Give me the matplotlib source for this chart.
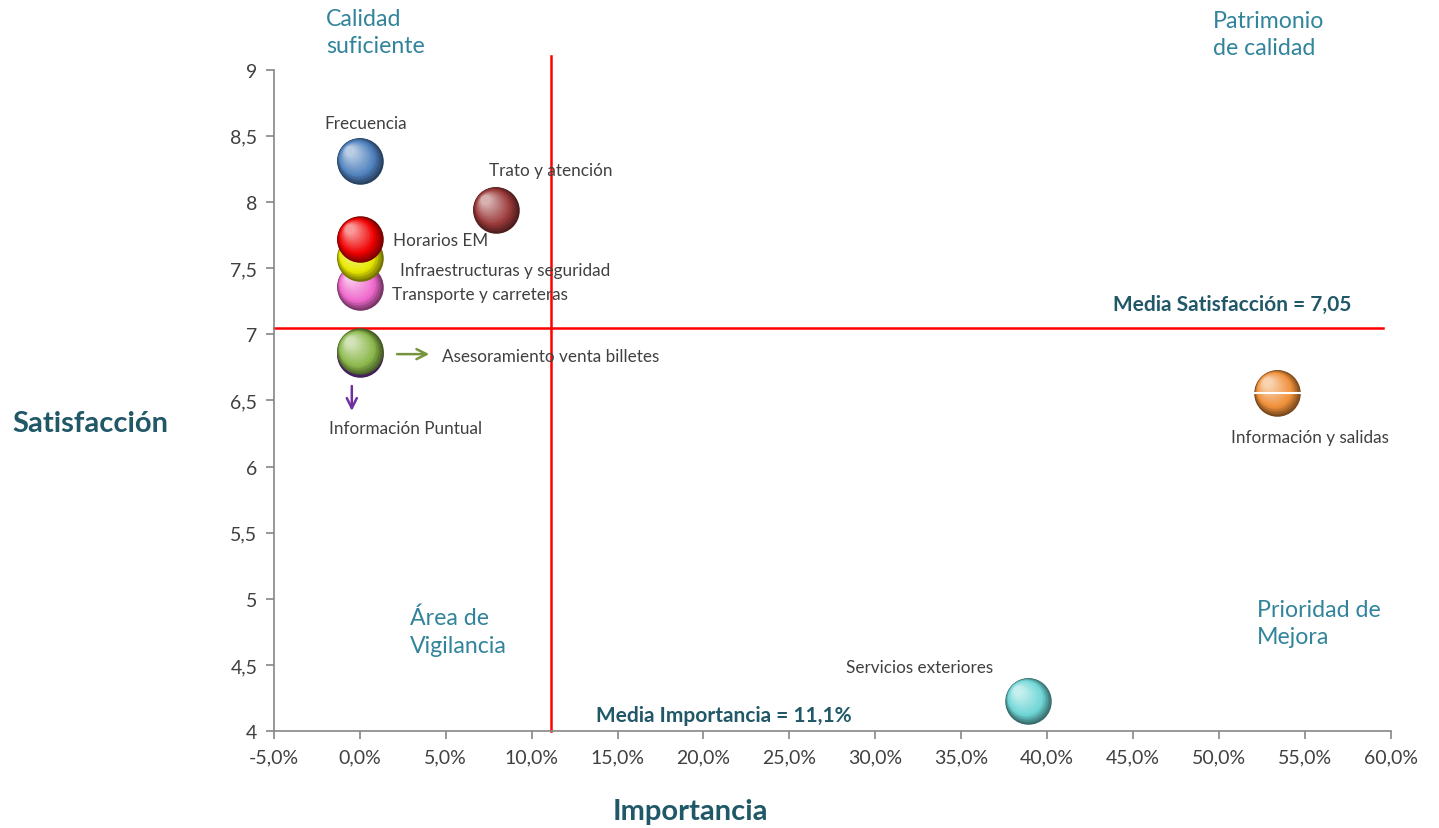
import matplotlib.pyplot as plt
from matplotlib.colors import to_rgb
from matplotlib.transforms import offset_copy
from matplotlib.ticker import FuncFormatter, MultipleLocator
import numpy as np

plt.rcParams['font.family'] = ['Lato', 'DejaVu Sans']

# =========================
# Datos
# =========================

atributos = [
    "Frecuencia",
    "Trato y atención",
    "Transporte y carreteras",
    "Infraestructuras y seguridad",
    "Horarios EM",
    "Información Puntual",
    "Asesoramiento venta billetes",
    "Información y salidas",
    "Servicios exteriores",
]

importancia = [0.0, 7.9, 0.0, 0.0, 0.0, 0.0, 0.0, 53.4, 38.9]      # %
satisfaccion = [8.31, 7.94, 7.36, 7.58, 7.72, 6.85, 6.87, 6.56, 4.23]

colores = [
    "#4F81BD", "#9B3A3A", "#F06ACD", "#E8E800", "#F00000",
    "#7A3AA8", "#8CB84C", "#F0903A", "#6FD6D6",
]

media_importancia = 11.1
media_satisfaccion = 7.05

# posicion de cada etiqueta respecto a su burbuja (puntos) y alineacion
etiquetas_off = [
    ((4, 27), "center"),
    ((40, 29), "center"),
    ((23, -5), "left"),
    ((29, -9), "left"),
    ((24, -1), "left"),
    ((-22, -53), "left"),
    ((59, -3), "left"),
    ((-33, -32), "left"),
    ((-131, 24), "left"),
]

TEAL = "#31849B"
TEAL_OSCURO = "#215868"
GRIS = "#404040"


def mezcla(c1, c2, t):
    a = np.array(to_rgb(c1))
    b = np.array(to_rgb(c2))
    return tuple(a + (b - a) * t)


def esfera(ax, fig, x, y, color, diam=33.5, z=3):
    # capas concentricas con brillo desplazado arriba-izquierda
    n = 22
    oscuro = mezcla(color, "black", 0.5)
    claro = mezcla(color, "white", 0.6)
    for k in range(n):
        t = k / (n - 1)
        d = diam * (1 - 0.8 * t)
        if t < 0.3:
            c = mezcla(oscuro, color, t / 0.3)
        else:
            c = mezcla(color, claro, (t - 0.3) / 0.7)
        dx = -0.22 * diam * t
        dy = 0.22 * diam * t
        tr = offset_copy(ax.transData, fig=fig, x=dx, y=dy, units="points")
        ax.plot(
            [x], [y], "o",
            ms=d,
            color=c,
            mec="none",
            transform=tr,
            zorder=z + k * 0.001,
        )


# =========================
# Figura
# =========================

fig = plt.figure(figsize=(14.39, 8.29), dpi=100)
ax = fig.add_axes([0.1904, 0.1167, 0.7760, 0.7981])

ax.set_xlim(-5, 60)
ax.set_ylim(4, 9)

ax.xaxis.set_major_locator(MultipleLocator(5))
ax.yaxis.set_major_locator(MultipleLocator(0.5))
ax.xaxis.set_major_formatter(
    FuncFormatter(lambda v, p: f"{v:.1f}%".replace(".", ","))
)
ax.yaxis.set_major_formatter(
    FuncFormatter(lambda v, p: f"{v:g}".replace(".", ","))
)

for s in ["top", "right"]:
    ax.spines[s].set_visible(False)
for s in ["left", "bottom"]:
    ax.spines[s].set_color("#868686")
    ax.spines[s].set_linewidth(1.2)

ax.tick_params(
    direction="out", length=6, width=1.2, color="#868686",
    labelsize=14, labelcolor=GRIS, pad=6
)


# -------------------------
# Lineas de medias
# -------------------------

ax.plot(
    [-5, 59.55], [media_satisfaccion, media_satisfaccion],
    color="#FF0000", lw=1.8, zorder=2, clip_on=False
)
ax.plot(
    [media_importancia, media_importancia], [4, 9.1],
    color="#FF0000", lw=1.8, zorder=2, clip_on=False
)


# -------------------------
# Burbujas
# -------------------------

for i in range(len(atributos)):
    esfera(ax, fig, importancia[i], satisfaccion[i], colores[i], z=3 + i * 0.1)

    (ox, oy), ha = etiquetas_off[i]
    ax.annotate(
        atributos[i],
        xy=(importancia[i], satisfaccion[i]),
        xytext=(ox, oy),
        textcoords="offset points",
        ha=ha, va="center",
        fontsize=12.3, color=GRIS, zorder=10
    )

# raya blanca sobre "Información y salidas"
ax.plot(
    [importancia[7] - 1.3, importancia[7] + 1.3],
    [satisfaccion[7], satisfaccion[7]],
    color="white", lw=1.5, zorder=5
)

# flechas de etiquetas solapadas
ax.annotate(
    "", xy=(4.2, 6.85), xytext=(2.0, 6.85),
    arrowprops=dict(arrowstyle="->", color="#77933C", lw=1.8,
                    mutation_scale=18),
    zorder=9
)
ax.annotate(
    "", xy=(-0.47, 6.40), xytext=(-0.47, 6.63),
    arrowprops=dict(arrowstyle="->", color="#7030A0", lw=1.8,
                    mutation_scale=18),
    zorder=9
)


# -------------------------
# Textos
# -------------------------

W, H = 1439, 829


def ftext(px, py, s, **kw):
    fig.text(px / W, 1 - py / H, s, **kw)


for px, py, s in [
    (326, 33, "Calidad\nsuficiente"),
    (1213, 35, "Patrimonio\nde calidad"),
    (410, 632, "Área de\nVigilancia"),
    (1257, 624, "Prioridad de\nMejora"),
]:
    ftext(px, py, s, fontsize=16.7, color=TEAL, va="center",
          linespacing=1.39)

ftext(12, 424, "Satisfacción", fontsize=21, fontweight="bold",
      color=TEAL_OSCURO, va="center")
ftext(690, 812, "Importancia", fontsize=21, fontweight="bold",
      color=TEAL_OSCURO, va="center", ha="center")

ftext(1113, 305, "Media Satisfacción = 7,05", fontsize=15,
      fontweight="bold", color=TEAL_OSCURO, va="center")
ftext(596, 716, "Media Importancia = 11,1%", fontsize=15,
      fontweight="bold", color=TEAL_OSCURO, va="center")

fig.savefig("out.png", dpi=100)
